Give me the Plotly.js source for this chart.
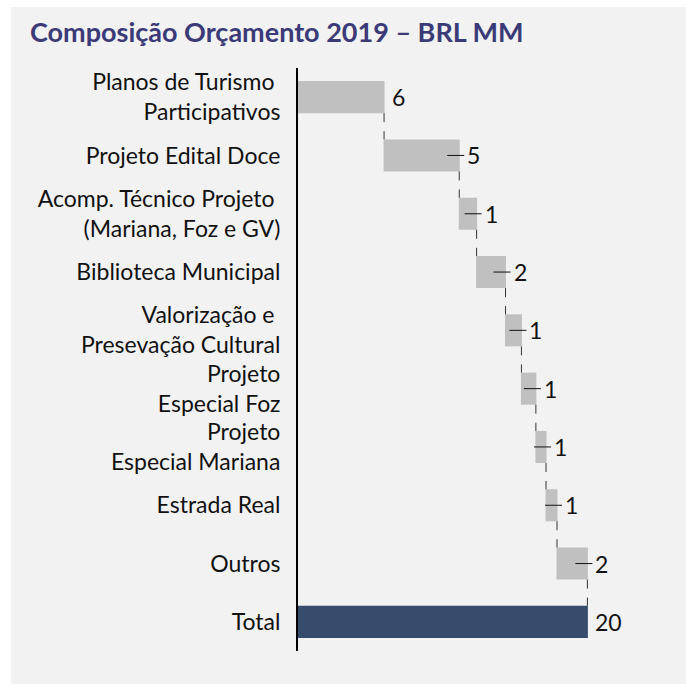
<!DOCTYPE html>
<html>
<head>
<meta charset="utf-8">
<script src="https://cdn.plot.ly/plotly-3.0.1.min.js"></script>
<style>
  html, body { margin:0; padding:0; background:#ffffff; }
  #wrap { position:relative; width:686px; height:684px; overflow:hidden; }
  #panel { position:absolute; left:11px; top:7px; right:0; bottom:0; background:#f2f2f2; }
  #chart { position:absolute; left:0; top:0; width:686px; height:684px; }
</style>
</head>
<body>
<div id="wrap"><div id="panel"></div><div id="chart"></div></div>
<script>
// Categories (multi-line labels) and values (BRL MM)
const categories = [
  "Planos de Turismo\u00a0<br>Participativos",
  "Projeto Edital Doce",
  "Acomp. Técnico Projeto\u00a0<br>(Mariana, Foz e GV)",
  "Biblioteca Municipal",
  "Valorização e\u00a0<br>Presevação Cultural",
  "Projeto<br>Especial Foz",
  "Projeto<br>Especial Mariana",
  "Estrada Real",
  "Outros",
  "Total"
];
const values = [5.95, 5.2, 1.2, 2.0, 1.1, 1.0, 0.7, 0.76, 2.1, 0];
const measures = ["relative","relative","relative","relative","relative","relative","relative","relative","relative","total"];
const valueLabels = ["6","5","1","2","1","1","1","1","2","20"];
const showLeader = [false,true,true,true,true,true,true,true,true,false];

const FONT = "Lato, 'Open Sans', sans-serif";

// cumulative end of each bar
const ends = [];
let acc = 0;
values.forEach((v, i) => {
  if (measures[i] === "total") { ends.push(acc); } else { acc += v; ends.push(acc); }
});

const trace = {
  type: "waterfall",
  orientation: "h",
  y: categories,
  x: values,
  measure: measures,
  increasing: { marker: { color: "#c0c0c0" } },
  decreasing: { marker: { color: "#c0c0c0" } },
  totals: { marker: { color: "#374b6c" } },
  connector: { mode: "between", line: { color: "#333333", width: 1, dash: "dash" } },
  textposition: "none",
  hoverinfo: "none",
  cliponaxis: false
};

const annotations = categories.map((c, i) => ({
  x: ends[i], y: c, xref: "x", yref: "y",
  text: valueLabels[i], showarrow: false,
  xanchor: "left", yanchor: "middle", xshift: 6,
  font: { family: FONT, size: 23, color: "#111111" }
}));

const shapes = [];
categories.forEach((c, i) => {
  if (showLeader[i]) {
    shapes.push({
      type: "line", xref: "x", yref: "y", xsizemode: "pixel",
      xanchor: ends[i], x0: -12, x1: 5, y0: c, y1: c,
      line: { color: "#111111", width: 1 }
    });
  }
});

const layout = {
  width: 686, height: 684,
  paper_bgcolor: "rgba(0,0,0,0)",
  plot_bgcolor: "rgba(0,0,0,0)",
  margin: { l: 298, r: 12, t: 68, b: 33, pad: 0 },
  showlegend: false,
  waterfallgap: 0.45,
  title: {
    text: "<b>Composição Orçamento 2019 – BRL MM</b>",
    xref: "container", yref: "container",
    x: 30/686, xanchor: "left",
    y: 1 - 33/684, yanchor: "middle",
    font: { family: FONT, size: 27, color: "#3b3a78" }
  },
  xaxis: { range: [0, 26], visible: false, showgrid: false, zeroline: false, fixedrange: true },
  yaxis: {
    autorange: "reversed",
    showline: true, linecolor: "#000000", linewidth: 2,
    showgrid: false, zeroline: false, ticks: "",
    ticklabelstandoff: 11,
    tickfont: { family: FONT, size: 23, color: "#111111" },
    fixedrange: true
  },
  annotations: annotations,
  shapes: shapes
};

Plotly.newPlot("chart", [trace], layout, { displayModeBar: false, staticPlot: true });
</script>
</body>
</html>
